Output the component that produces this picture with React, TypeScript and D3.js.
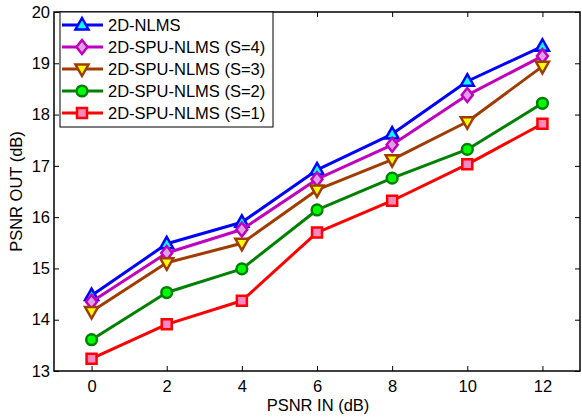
import React, { useEffect, useRef } from 'react';
import * as d3 from 'd3';

const psnrIn = [0, 2, 4, 6, 8, 10, 12];
const nlms = [14.47, 15.48, 15.9, 16.92, 17.62, 18.65, 19.33];
const spuS4 = [14.35, 15.3, 15.76, 16.74, 17.41, 18.38, 19.14];
const spuS3 = [14.16, 15.11, 15.49, 16.53, 17.12, 17.86, 18.94];
const spuS2 = [13.61, 14.53, 14.99, 16.14, 16.76, 17.32, 18.22];
const spuS1 = [13.24, 13.91, 14.37, 15.7, 16.32, 17.03, 17.82];
const seriesNames = ['2D-NLMS', '2D-SPU-NLMS (S=4)', '2D-SPU-NLMS (S=3)', '2D-SPU-NLMS (S=2)', '2D-SPU-NLMS (S=1)'];
const xTicks = [0, 2, 4, 6, 8, 10, 12];
const yTicks = [13, 14, 15, 16, 17, 18, 19, 20];

const styles = [
  { stroke: '#0000ff', fill: '#00ffff', marker: 'triangle' },
  { stroke: '#bf00bf', fill: '#e0a0e8', marker: 'diamond' },
  { stroke: '#a03c00', fill: '#ffff00', marker: 'down' },
  { stroke: '#008000', fill: '#00ff00', marker: 'circle' },
  { stroke: '#ff0000', fill: '#ff88c0', marker: 'square' },
];

function markerPath(kind: string) {
  if (kind === 'triangle') return 'M0,-7L6.5,4.5L-6.5,4.5Z';
  if (kind === 'down') return 'M0,7L6.5,-4.5L-6.5,-4.5Z';
  if (kind === 'diamond') return 'M0,-7L5.5,0L0,7L-5.5,0Z';
  if (kind === 'square') return 'M-5,-5L5,-5L5,5L-5,5Z';
  return d3.symbol(d3.symbolCircle, 90)() as string;
}

export default function App() {
  const ref = useRef<SVGSVGElement>(null);

  useEffect(() => {
    const svg = d3.select(ref.current);
    svg.selectAll('*').remove();
    const W = 582, H = 419;
    const m = { left: 54, top: 12, right: 2, bottom: 48 };
    const font = 'Liberation Sans, Arial, sans-serif';
    const fs = 16.5;

    const x = d3.scaleLinear().domain([-1, 13]).range([m.left, W - m.right]);
    const y = d3.scaleLinear().domain([13, 20]).range([H - m.bottom, m.top]);
    const fmt = d3.format('d');

    svg.append('rect').attr('width', W).attr('height', H).attr('fill', '#fff');

    const g = svg.append('g');
    // ticks inward on all four sides
    g.append('g').attr('transform', `translate(0,${y(13)})`)
      .call(d3.axisBottom(x).tickValues(xTicks).tickFormat(fmt).tickSizeInner(-5).tickSizeOuter(0).tickPadding(9))
      .call(a => a.select('.domain').remove());
    g.append('g').attr('transform', `translate(0,${y(20)})`)
      .call(d3.axisTop(x).tickValues(xTicks).tickSizeInner(-5).tickSizeOuter(0).tickFormat(() => ''))
      .call(a => a.select('.domain').remove());
    g.append('g').attr('transform', `translate(${x(-1)},0)`)
      .call(d3.axisLeft(y).tickValues(yTicks).tickFormat(fmt).tickSizeInner(-5).tickSizeOuter(0).tickPadding(4))
      .call(a => a.select('.domain').remove());
    g.append('g').attr('transform', `translate(${x(13)},0)`)
      .call(d3.axisRight(y).tickValues(yTicks).tickSizeInner(-5).tickSizeOuter(0).tickFormat(() => ''))
      .call(a => a.select('.domain').remove());
    g.selectAll('.tick text').attr('font-family', font).attr('font-size', fs).attr('fill', '#000');
    g.selectAll('.tick line').attr('stroke', '#000');

    g.append('rect')
      .attr('x', x(-1)).attr('y', y(20))
      .attr('width', x(13) - x(-1)).attr('height', y(13) - y(20))
      .attr('fill', 'none').attr('stroke', '#000').attr('stroke-width', 1.5);

    const all = [nlms, spuS4, spuS3, spuS2, spuS1];
    const line = d3.line<number>().x((_, i) => x(psnrIn[i])).y(d => y(d));

    all.forEach((vals, k) => {
      const st = styles[k];
      svg.append('path').datum(vals).attr('d', line)
        .attr('fill', 'none').attr('stroke', st.stroke).attr('stroke-width', 3).attr('stroke-linejoin', 'round');
      svg.selectAll(null).data(vals).enter().append('path')
        .attr('d', markerPath(st.marker))
        .attr('transform', (d, i) => `translate(${x(psnrIn[i])},${y(d)})`)
        .attr('fill', st.fill).attr('stroke', st.stroke).attr('stroke-width', 2.5);
    });

    // legend
    const lg = svg.append('g');
    lg.append('rect').attr('x', 60).attr('y', 12).attr('width', 213).attr('height', 115)
      .attr('fill', '#fff').attr('stroke', '#000').attr('stroke-width', 1);
    seriesNames.forEach((name, k) => {
      const st = styles[k];
      const yy = 25 + k * 22;
      lg.append('line').attr('x1', 62).attr('x2', 103).attr('y1', yy).attr('y2', yy)
        .attr('stroke', st.stroke).attr('stroke-width', 3);
      lg.append('path').attr('d', markerPath(st.marker)).attr('transform', `translate(82,${yy})`)
        .attr('fill', st.fill).attr('stroke', st.stroke).attr('stroke-width', 2.5);
      lg.append('text').attr('x', 108).attr('y', yy + 6).text(name)
        .attr('font-family', font).attr('font-size', fs).attr('fill', '#000');
    });

    svg.append('text').attr('x', 318).attr('y', 411).attr('text-anchor', 'middle')
      .attr('font-family', font).attr('font-size', fs).text('PSNR IN (dB)');
    svg.append('text').attr('transform', `translate(22,${(y(13) + y(20)) / 2}) rotate(-90)`)
      .attr('text-anchor', 'middle').attr('font-family', font).attr('font-size', fs).text('PSNR OUT (dB)');
  }, []);

  return (
    <svg ref={ref} width={582} height={419} style={{ position: 'absolute', left: 0, top: 0 }} />
  );
}
